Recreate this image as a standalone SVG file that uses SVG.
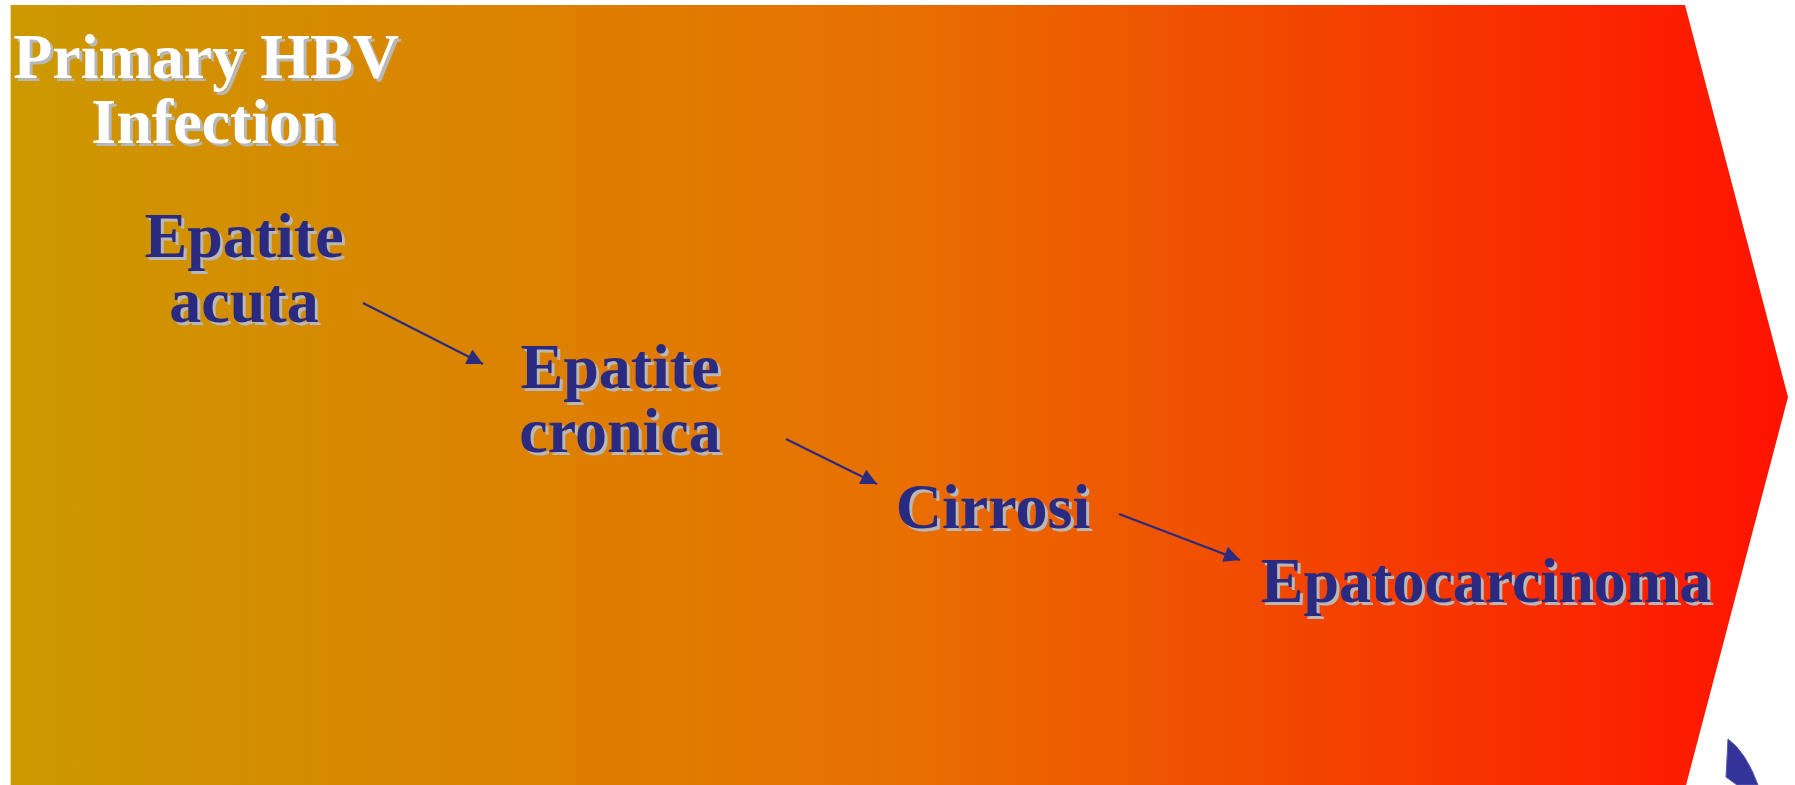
<svg xmlns="http://www.w3.org/2000/svg" width="1795" height="785" viewBox="0 0 1795 785">
  <defs>
    <linearGradient id="band" x1="10" y1="0" x2="1788" y2="0" gradientUnits="userSpaceOnUse">
      <stop offset="0" stop-color="#CC9900"/>
      <stop offset="0.5" stop-color="#E87000"/>
      <stop offset="1" stop-color="#FF1200"/>
    </linearGradient>
    <marker id="head" viewBox="0 0 10 10" refX="10" refY="5" markerWidth="17" markerHeight="16" markerUnits="userSpaceOnUse" orient="auto">
      <path d="M0,0 L10,5 L0,10 Z" fill="#2A2A80"/>
    </marker>
  </defs>
  <style>
    .lbl { font-family: "Liberation Serif", "Times New Roman", serif; font-weight: bold; font-size: 64px; text-anchor: middle; }
    .title { fill: #FFFFFF; }
    .stage { fill: #2A2A80; }
    .shadow { fill: #B8B8B8; }
    .conn { stroke: #2A2A80; stroke-width: 2.2; fill: none; marker-end: url(#head); }
  </style>

  <rect width="1795" height="785" fill="#FFFFFF"/>

  <!-- progression band -->
  <path d="M10,5 L1685,5 L1788,397 L1685,789 L10,789 Z" fill="url(#band)"/>
  <line x1="10.5" y1="5" x2="10.5" y2="785" stroke="#E8D9A8" stroke-width="1"/>

  <!-- blue accent in the lower corner -->
  <path d="M1728,739 Q1746,752 1758,785 L1737,785 L1726,777 Z" fill="#333399" stroke="#5A5AB0" stroke-width="1"/>

  <!-- each label: grey shadow copy offset by 3px, then the label itself -->
  <g id="title">
    <text class="lbl shadow" x="209" y="81">Primary HBV</text>
    <text class="lbl title" x="206" y="78">Primary HBV</text>
    <text class="lbl shadow" x="217" y="146">Infection</text>
    <text class="lbl title" x="214" y="143">Infection</text>
  </g>

  <g id="node-acuta">
    <text class="lbl shadow" x="247" y="260">Epatite</text>
    <text class="lbl stage" x="244" y="257">Epatite</text>
    <text class="lbl shadow" x="247" y="325">acuta</text>
    <text class="lbl stage" x="244" y="322">acuta</text>
  </g>

  <g id="node-cronica">
    <text class="lbl shadow" x="623" y="391">Epatite</text>
    <text class="lbl stage" x="620" y="388">Epatite</text>
    <text class="lbl shadow" x="623" y="455">cronica</text>
    <text class="lbl stage" x="620" y="452">cronica</text>
  </g>

  <g id="node-cirrosi">
    <text class="lbl shadow" x="996" y="531">Cirrosi</text>
    <text class="lbl stage" x="993" y="528">Cirrosi</text>
  </g>

  <g id="node-epatocarcinoma">
    <text class="lbl shadow" x="1489" y="605">Epatocarcinoma</text>
    <text class="lbl stage" x="1486" y="602">Epatocarcinoma</text>
  </g>

  <g id="connectors">
    <line class="conn" x1="363" y1="303" x2="483" y2="364"/>
    <line class="conn" x1="786" y1="439" x2="877" y2="484"/>
    <line class="conn" x1="1119" y1="514" x2="1240" y2="560"/>
  </g>
</svg>
